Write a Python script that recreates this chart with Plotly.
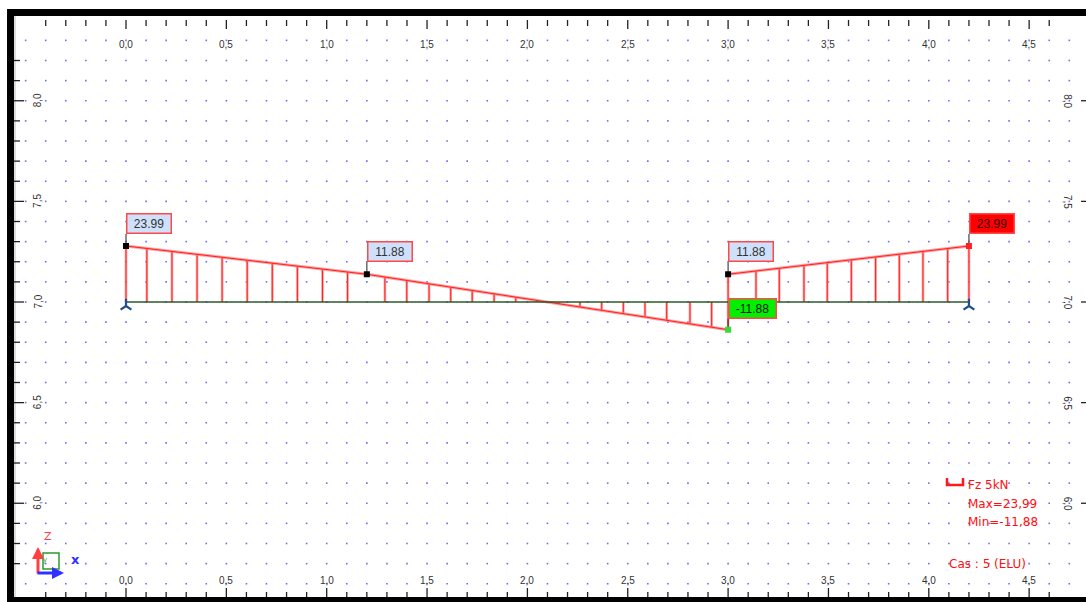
import numpy as np
import plotly.graph_objects as go

# ---------------- data ----------------
span1_x = [0.0, 1.2, 3.0]
span1_fz = [23.99, 11.88, -11.88]
span2_x = [3.0, 4.2]
span2_fz = [11.88, 23.99]
hatch1_x = [0.104, 0.229, 0.354, 0.479, 0.604, 0.729, 0.854, 0.979, 1.104,
            1.290, 1.399, 1.510, 1.618, 1.725, 1.834, 1.942, 2.046, 2.157,
            2.262, 2.370, 2.478, 2.586, 2.694, 2.810, 2.918]
hatch2_x = [3.139, 3.255, 3.378, 3.494, 3.614, 3.735, 3.853, 3.971, 4.094]
support_x = [0.0, 4.2]
beam_y = 7.0
label_x = [0.0, 1.2, 3.0, 3.0, 4.2]
label_val = [23.99, 11.88, 11.88, -11.88, 23.99]
label_text = ["23.99", "11.88", "11.88", "-11.88", "23.99"]
label_kind = ["node", "node", "node", "min", "max"]
x_tick_vals = [0.0, 0.5, 1.0, 1.5, 2.0, 2.5, 3.0, 3.5, 4.0, 4.5]
x_tick_text = ["0,0", "0,5", "1,0", "1,5", "2,0", "2,5", "3,0", "3,5", "4,0", "4,5"]
y_tick_vals = [6.0, 6.5, 7.0, 7.5, 8.0]
y_tick_text = ["6,0", "6,5", "7,0", "7,5", "8,0"]
legend_lines = ["Fz 5kN", "Max=23,99", "Min=-11,88"]
case_label = "Cas : 5 (ELU)"
scale = 0.0116  # drawing units per kN

# ---------------- geometry helpers (page pixels -> figure) ----------------
OFF = 0  # page body margin removed in post_script
W, H = 1086 - OFF, 602 - OFF
X0, Y0 = 126.0 - OFF, 302.0 - OFF
SX, SY = 200.7, 201.25
xr = [(0 - X0) / SX, (W - X0) / SX]
yr = [beam_y + (Y0 - H) / SY, beam_y + Y0 / SY]

def px(p):
    return max(0.0, min(1.0, (p - OFF) / W))

def py(p):
    return max(0.0, min(1.0, 1 - (p - OFF) / H))

def dy(pix):
    return pix / SY

fig = go.Figure()

# dotted grid
gx = np.round(np.arange(-0.5, 4.75, 0.1), 2)
gy = np.round(np.arange(5.6, 8.35, 0.1), 2)
GX, GY = np.meshgrid(gx, gy)
fig.add_trace(go.Scatter(x=GX.ravel(), y=GY.ravel(), mode="markers",
                         marker=dict(symbol="square", size=1.6, color="rgba(70,70,255,0.8)",
                                     line=dict(width=0)),
                         hoverinfo="skip", showlegend=False))

# hatches
def seg_trace(xs, y0s, y1s, color, width):
    xx, yy = [], []
    for a, b, c in zip(xs, y0s, y1s):
        xx += [a, a, None]
        yy += [b, c, None]
    return go.Scatter(x=xx, y=yy, mode="lines", line=dict(color=color, width=width),
                      hoverinfo="skip", showlegend=False)

h1 = [beam_y + scale * v for v in np.interp(hatch1_x, span1_x, span1_fz)]
h2 = [beam_y + scale * v for v in np.interp(hatch2_x, span2_x, span2_fz)]
hx = hatch1_x + hatch2_x
hy = h1 + h2
ends_x = [span1_x[0], span2_x[-1], span1_x[-1]]
ends_y0 = [beam_y, beam_y, beam_y + scale * span1_fz[-1]]
ends_y1 = [beam_y + scale * span1_fz[0], beam_y + scale * span2_fz[-1], beam_y + scale * span2_fz[0]]
fig.add_trace(seg_trace(hx + ends_x, [beam_y] * len(hx) + ends_y0, hy + ends_y1, "rgba(255,120,120,0.7)", 2.6))
fig.add_trace(seg_trace(hx + ends_x, [beam_y] * len(hx) + ends_y0, hy + ends_y1, "#ff2020", 1))

# envelope lines
for xs, vs in [(span1_x, span1_fz), (span2_x, span2_fz)]:
    ys = [beam_y + scale * v for v in vs]
    fig.add_trace(go.Scatter(x=xs, y=ys, mode="lines", line=dict(color="rgba(255,120,120,0.7)", width=3),
                             hoverinfo="skip", showlegend=False))
    fig.add_trace(go.Scatter(x=xs, y=ys, mode="lines", line=dict(color="#ff2020", width=1),
                             hoverinfo="skip", showlegend=False))

# beam
fig.add_trace(go.Scatter(x=[span1_x[0], span2_x[-1]], y=[beam_y, beam_y], mode="lines",
                         line=dict(color="#2b5a2b", width=1.5), hoverinfo="skip", showlegend=False))

# supports
fig.add_trace(go.Scatter(x=support_x, y=[beam_y - dy(4)] * len(support_x), mode="markers",
                         marker=dict(symbol="y-up-open", size=9, color="#1f4e8c",
                                     line=dict(width=2.2, color="#1f4e8c")),
                         hoverinfo="skip", showlegend=False))

# labels with leaders
styles = {
    "node": dict(bg="#cfe0fb", mk="#000000", tc="#333333"),
    "min": dict(bg="#00f000", mk="#33dd33", tc="#111111"),
    "max": dict(bg="#ff0000", mk="#ff2020", tc="#330000"),
}
for lx, lv, lt, lk in zip(label_x, label_val, label_text, label_kind):
    st = styles[lk]
    ny = beam_y + scale * lv
    top = ny + (dy(12) if lv > 0 else dy(11))
    fig.add_trace(go.Scatter(x=[lx, lx], y=[ny, top], mode="lines",
                             line=dict(color="#444444", width=1.2), hoverinfo="skip", showlegend=False))
    fig.add_trace(go.Scatter(x=[lx], y=[ny], mode="markers",
                             marker=dict(symbol="square", size=6, color=st["mk"], line=dict(width=0)),
                             hoverinfo="skip", showlegend=False))
    fig.add_annotation(x=lx, y=top, xref="x", yref="y", text=lt, showarrow=False,
                       xanchor="left", yanchor="bottom", bgcolor=st["bg"],
                       bordercolor="#ff4a4a", borderwidth=1.5, borderpad=1,
                       width=44 if lk == "min" else 41, height=16,
                       font=dict(family="Liberation Sans, Arial", size=12, color=st["tc"]))

# frame
shapes = []
for (a, b, c, d) in [(7, 9, 14, 602), (7, 9, 1086, 16), (7, 597, 1086, 602)]:
    shapes.append(dict(type="rect", xref="paper", yref="paper", x0=px(a), x1=px(c),
                       y0=py(d), y1=py(b), fillcolor="black", line=dict(width=0), layer="above"))
shapes.append(dict(type="line", xref="paper", yref="paper", x0=px(15), x1=px(15), y0=py(597), y1=py(16),
                   line=dict(color="#bbbbbb", width=1)))

# ticks
tx = np.round(np.arange(-0.4, 4.65, 0.1), 2)
for t in tx:
    major = abs(round(t * 2) - t * 2) < 1e-6
    shapes.append(dict(type="line", xref="x", yref="paper", x0=t, x1=t,
                       y0=py(29 if major else 26), y1=py(20), line=dict(color="#222", width=1.3)))
    shapes.append(dict(type="line", xref="x", yref="paper", x0=t, x1=t,
                       y0=py(597), y1=py(588 if major else 592), line=dict(color="#222", width=1.3)))
ty = np.round(np.arange(5.7, 8.25, 0.1), 2)
for t in ty:
    major = abs(round(t * 2) - t * 2) < 1e-6
    shapes.append(dict(type="line", xref="paper", yref="y", x0=px(14), x1=px(24 if major else 20),
                       y0=t, y1=t, line=dict(color="#222", width=1.3)))
    if major:
        shapes.append(dict(type="line", xref="paper", yref="y", x0=px(1081), x1=px(1086),
                           y0=t, y1=t, line=dict(color="#222", width=1.3)))

# legend bracket
shapes.append(dict(type="path", xref="paper", yref="paper",
                   path=f"M {px(947)} {py(478)} L {px(947)} {py(485)} L {px(963)} {py(485)} L {px(963)} {py(478)}",
                   line=dict(color="#ff1a1a", width=2.5)))
# axis icon square
shapes.append(dict(type="rect", xref="paper", yref="paper", x0=px(43), x1=px(59), y0=py(569), y1=py(553),
                   line=dict(color="#2a9a2a", width=1.5)))
fig.update_layout(shapes=shapes)

# tick labels
tick_font = dict(family="Liberation Sans, Arial", size=10, color="#333333")
for v, t in zip(x_tick_vals, x_tick_text):
    fig.add_annotation(x=v, y=py(37), xref="x", yref="paper", text=t, showarrow=False, font=tick_font)
    fig.add_annotation(x=v, y=py(588), xref="x", yref="paper", text=t, showarrow=False, font=tick_font)
for v, t in zip(y_tick_vals, y_tick_text):
    fig.add_annotation(x=px(30), y=v, xref="paper", yref="y", text=t, showarrow=False,
                       textangle=-90, font=tick_font)
    fig.add_annotation(x=px(1075), y=v, xref="paper", yref="y", text=t, showarrow=False,
                       textangle=90, font=tick_font)

# legend text
leg_font = dict(family="DejaVu Sans", size=12, color="#ff1010")
for i, t in enumerate(legend_lines):
    fig.add_annotation(x=px(966), y=py(485 + 18.5 * i), xref="paper", yref="paper", text=t,
                       showarrow=False, xanchor="left", yanchor="middle", font=leg_font)
fig.add_annotation(x=px(947), y=py(564), xref="paper", yref="paper", text=case_label,
                   showarrow=False, xanchor="left", yanchor="middle", font=leg_font)

# axis icon
fig.add_annotation(x=px(38), y=py(547), xref="paper", yref="paper", ax=0, ay=28, text="",
                   showarrow=True, arrowhead=2, arrowsize=0.8, arrowwidth=3, arrowcolor="#ff4040")
fig.add_annotation(x=px(64), y=py(573), xref="paper", yref="paper", ax=-28, ay=0, text="",
                   showarrow=True, arrowhead=2, arrowsize=0.8, arrowwidth=3, arrowcolor="#3030ff")
fig.add_annotation(x=px(42), y=py(545), xref="paper", yref="paper", text="Z", showarrow=False,
                   font=dict(family="DejaVu Sans", size=11, color="#ff4040"))
fig.add_annotation(x=px(69), y=py(569), xref="paper", yref="paper", text="<b>x</b>", showarrow=False,
                   font=dict(family="DejaVu Sans", size=13, color="#3030ff"))
fig.add_annotation(x=px(41), y=py(566), xref="paper", yref="paper", text="y", showarrow=False,
                   font=dict(family="DejaVu Sans", size=7, color="#2a9a2a"))

fig.update_layout(
    width=W, height=H, margin=dict(l=0, r=0, t=0, b=0, pad=0),
    paper_bgcolor="white", plot_bgcolor="white",
    xaxis=dict(range=xr, showgrid=False, zeroline=False, showticklabels=False, ticks="",
               showline=False, fixedrange=True),
    yaxis=dict(range=yr, showgrid=False, zeroline=False, showticklabels=False, ticks="",
               showline=False, fixedrange=True),
    showlegend=False,
)

fig.write_html(
    "out.html",
    config={"displayModeBar": False},
    post_script=("document.documentElement.style.overflow='hidden';"
                 "document.body.style.overflow='hidden';"
                 "document.body.style.margin='0';"),
)
